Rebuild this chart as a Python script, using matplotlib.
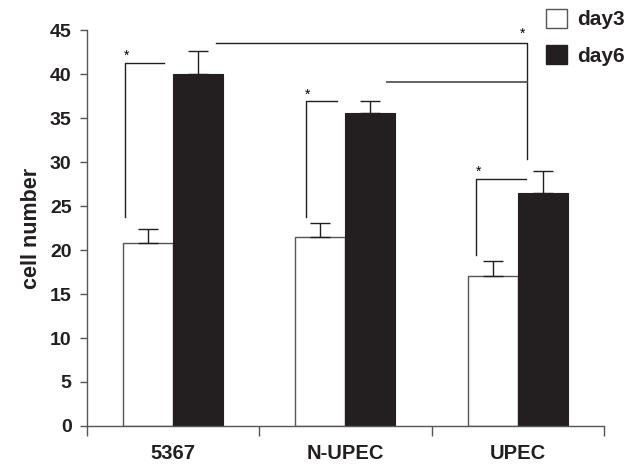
import numpy as np
import matplotlib
matplotlib.use("Agg")
import matplotlib.pyplot as plt
from matplotlib.patches import Patch

plt.rcParams["font.family"] = ["Liberation Sans", "DejaVu Sans"]

DARK = "#231f20"
AXIS = "#555555"

groups   = ["5367", "N-UPEC", "UPEC"]
day3     = [20.8, 21.5, 17.1]
day3_err = [1.55, 1.6, 1.6]
day6     = [40.0, 35.6, 26.5]
day6_err = [2.65, 1.35, 2.5]

# significance brackets: (group, x of vertical, x of end, y top, y bottom)
pair_brackets = [
    (0, -0.28, -0.05, 41.3, 23.8),
    (1, -0.23, -0.05, 36.9, 23.8),
    (2, -0.24, 0.05, 28.1, 19.4),
]


def main():
    x = np.arange(len(groups))
    w = 0.29

    fig = plt.figure(figsize=(6.39, 4.65), dpi=100)
    ax = fig.add_axes([0.136, 0.084, 0.809, 0.851])

    ax.bar(x - w / 2, day3, w, color="white", edgecolor=AXIS, linewidth=1.0,
           label="day3", zorder=2)
    ax.bar(x + w / 2, day6, w, color=DARK, edgecolor=DARK, linewidth=0.8,
           label="day6", zorder=2)
    ax.errorbar(x - w / 2, day3, yerr=[np.zeros(3), day3_err], fmt="none",
                ecolor=DARK, elinewidth=1.0, capsize=7, capthick=1.0, zorder=3)
    ax.errorbar(x + w / 2, day6, yerr=[np.zeros(3), day6_err], fmt="none",
                ecolor=DARK, elinewidth=1.0, capsize=7, capthick=1.0, zorder=3)

    for g, xv, xe, yt, yb in pair_brackets:
        ax.plot([g + xv, g + xv, g + xe], [yb, yt, yt], color=DARK, lw=1.0)
        ax.text(g + xv + 0.01, yt + 0.8, "*", ha="center", va="center", fontsize=10)

    # strain comparison bracket
    ax.plot([0.25, 2.055, 2.055], [43.5, 43.5, 30.3], color=DARK, lw=1.0)
    ax.plot([1.24, 2.055], [39.1, 39.1], color=AXIS, lw=1.3)
    ax.text(2.03, 44.6, "*", ha="center", va="center", fontsize=10)

    ax.set_xlim(-0.5, 2.5)
    ax.set_ylim(0, 45)
    ax.set_yticks(np.arange(0, 46, 5))
    ax.set_xticks(x)
    ax.set_xticklabels(groups, fontsize=14.5, fontweight="bold")
    ax.set_xticks([-0.5, 0.5, 1.5, 2.5], minor=True)
    ax.tick_params(axis="x", which="major", length=0, pad=13)
    ax.tick_params(axis="x", which="minor", length=7, width=1.0, color=AXIS,
                   direction="out")
    ax.tick_params(axis="y", length=5, width=1.0, color=AXIS, pad=6,
                   labelsize=14)
    for lab in ax.get_yticklabels():
        lab.set_fontweight("bold")
        lab.set_color(DARK)
    for lab in ax.get_xticklabels():
        lab.set_color(DARK)

    for side in ["top", "right"]:
        ax.spines[side].set_visible(False)
    for side in ["left", "bottom"]:
        ax.spines[side].set_color(AXIS)
        ax.spines[side].set_linewidth(1.0)

    ax.set_ylabel("cell number", fontsize=15.5, fontweight="bold", color=DARK,
                  labelpad=6)

    handles = [Patch(facecolor="white", edgecolor=AXIS, label="day3"),
               Patch(facecolor=DARK, edgecolor=DARK, label="day6")]
    leg = fig.legend(handles=handles, loc="upper left",
                     bbox_to_anchor=(546 / 639, 1 - 9 / 465),
                     bbox_transform=fig.transFigure, frameon=False,
                     borderpad=0, borderaxespad=0, handlelength=1.0,
                     handleheight=1.0, handletextpad=0.5, labelspacing=0.75,
                     prop={"size": 15, "weight": "bold"})
    for t in leg.get_texts():
        t.set_color(DARK)

    fig.savefig("out.png", dpi=100)
    plt.close(fig)


main()
